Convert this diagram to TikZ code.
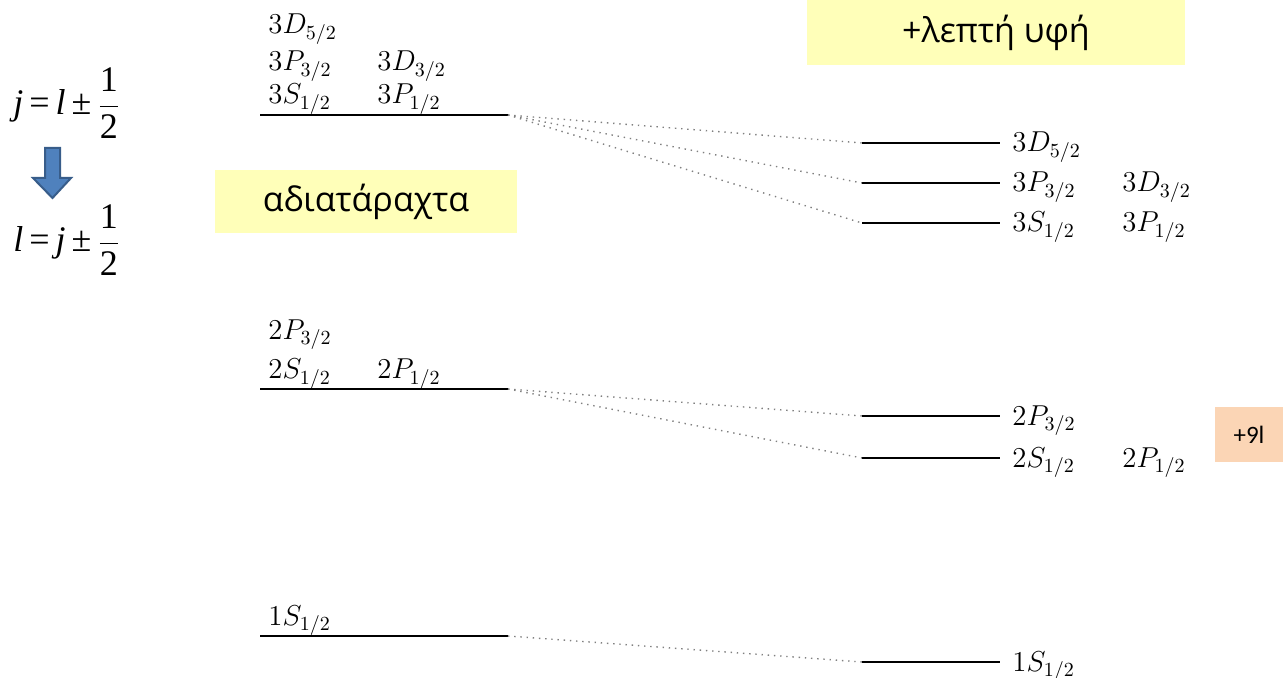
\documentclass[tikz,border=0pt]{standalone}
\usepackage{fontspec}
\newfontfamily\greekfont{Open Sans}
\newfontfamily\tmsfont{Liberation Serif}
\newfontfamily\calfont{Carlito}
\definecolor{notepale}{HTML}{FFFFB9}
\definecolor{notepeach}{HTML}{FBD5B5}
\definecolor{arrowfill}{HTML}{4F81BD}
\definecolor{arrowedge}{HTML}{385D8A}
\tikzset{
  level/.style={line width=0.85pt},
  split/.style={gray, line width=0.7pt, dash pattern=on 0.7pt off 2.4pt},
  term/.style={anchor=base west, inner sep=0pt, font=\fontsize{14.5}{17}\selectfont},
  note/.style={fill=notepale, inner sep=0pt, font=\greekfont\fontsize{17}{20}\selectfont},
}
\newcommand{\half}{\ensuremath{\displaystyle\frac{\hbox{\tmsfont 1}}{\hbox{\tmsfont 2}}}}
\begin{document}
\begin{tikzpicture}[x=0.5pt, y=-0.5pt]
\useasboundingbox (0,0) rectangle (1283,678);

% coupling rules
\node[anchor=west, inner sep=0pt, font=\tmsfont\fontsize{18}{20}\selectfont] (rule1) at (13,103)
  {{\itshape j}\,=\,{\itshape l}\,±\,\half};
\node[anchor=west, inner sep=0pt, font=\tmsfont\fontsize{18}{20}\selectfont] (rule2) at (13,240)
  {{\itshape l}\,=\,{\itshape j}\,±\,\half};
\draw[fill=arrowfill, draw=arrowedge, line width=1pt]
  (45,148) -- (60,148) -- (60,178) -- (71,178) -- (52.5,198) -- (33,178) -- (45,178) -- cycle;

% boxed headings
\node[note, minimum width=151pt, minimum height=31.5pt] (unpert) at (366,201.5) {αδιατάραχτα};
\node[note, minimum width=189pt, minimum height=32.5pt] (fine) at (996,32.5) {+λεπτή υφή};
\node[fill=notepeach, inner sep=0pt, minimum width=34pt, minimum height=27.5pt,
      font=\calfont\fontsize{12.5}{14}\selectfont] (lamb) at (1249,434.5) {+9l};

% unperturbed levels
\draw[level] (260,115) coordinate (u3w) -- (508,115) coordinate (u3);
\draw[level] (260,389) coordinate (u2w) -- (508,389) coordinate (u2);
\draw[level] (260,636) coordinate (u1w) -- (508,636) coordinate (u1);

\node[term] (u3a) at (268,34) {$3D_{5/2}$};
\node[term] (u3b) at (268,71) {$3P_{3/2}$};
\node[term] (u3c) at (377,71) {$3D_{3/2}$};
\node[term] (u3d) at (268,104) {$3S_{1/2}$};
\node[term] (u3e) at (377,104) {$3P_{1/2}$};
\node[term] (u2a) at (268,339) {$2P_{3/2}$};
\node[term] (u2b) at (268,379) {$2S_{1/2}$};
\node[term] (u2c) at (377,379) {$2P_{1/2}$};
\node[term] (u1a) at (268,625) {$1S_{1/2}$};

% fine-structure levels
\draw[level] (862,143) coordinate (f3a) -- (1000,143);
\draw[level] (862,183) coordinate (f3b) -- (1000,183);
\draw[level] (862,223) coordinate (f3c) -- (1000,223);
\draw[level] (862,416) coordinate (f2a) -- (1000,416);
\draw[level] (862,458) coordinate (f2b) -- (1000,458);
\draw[level] (862,662) coordinate (f1a) -- (1000,662);

\node[term] (l3a) at (1012,152) {$3D_{5/2}$};
\node[term] (l3b) at (1012,192) {$3P_{3/2}$};
\node[term] (l3c) at (1122,192) {$3D_{3/2}$};
\node[term] (l3d) at (1012,232) {$3S_{1/2}$};
\node[term] (l3e) at (1122,232) {$3P_{1/2}$};
\node[term] (l2a) at (1012,425) {$2P_{3/2}$};
\node[term] (l2b) at (1012,467) {$2S_{1/2}$};
\node[term] (l2c) at (1122,467) {$2P_{1/2}$};
\node[term] (l1a) at (1012,671) {$1S_{1/2}$};

% splitting guides
\draw[split] (u3) -- (f3a);
\draw[split] (u3) -- (f3b);
\draw[split] (u3) -- (f3c);
\draw[split] (u2) -- (f2a);
\draw[split] (u2) -- (f2b);
\draw[split] (u1) -- (f1a);
\end{tikzpicture}
\end{document}
